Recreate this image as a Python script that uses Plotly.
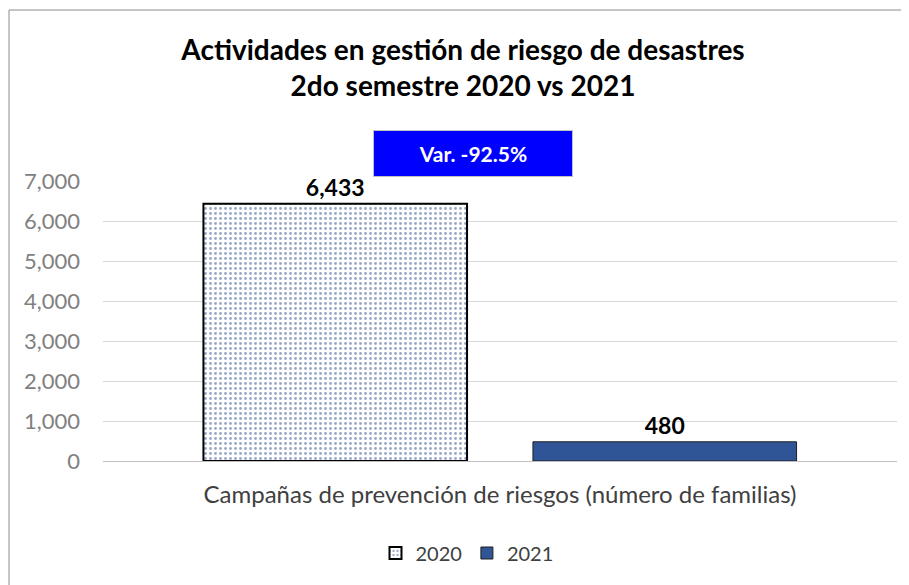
import plotly.graph_objects as go

categories = ["Campañas de prevención de riesgos (número de familias)"]
series_names = ["2020", "2021"]
values_2020 = [6433]
values_2021 = [480]
variation_label = "Var. -92.5%"
y_tick_values = [0, 1000, 2000, 3000, 4000, 5000, 6000, 7000]

FONT = "Lato"

# the page body adds an 8px margin, so the figure is 8px smaller each way
W, H = 901, 577
L, R, T, B = 95, 12, 173, 124
PW, PH = W - L - R, H - T - B


def px_x(x):
    return (x - 8 - L) / PW


def px_y(y):
    return (H - B - (y - 8)) / PH


fig = go.Figure()

fig.add_trace(
    go.Bar(
        name=series_names[0],
        x=categories,
        y=values_2020,
        text=[f"{v:,}" for v in values_2020],
        textposition="outside",
        textfont=dict(family=FONT, size=23, color="#000000", weight="bold"),
        marker=dict(
            color="#ffffff",
            line=dict(color="#000000", width=2),
            pattern=dict(shape=".", fgcolor="#2F4F8F", bgcolor="#ffffff", size=5, solidity=0.25),
        ),
        cliponaxis=False,
    )
)

fig.add_trace(
    go.Bar(
        name=series_names[1],
        x=categories,
        y=values_2021,
        text=[f"{v:,}" for v in values_2021],
        textposition="outside",
        textfont=dict(family=FONT, size=23, color="#000000", weight="bold"),
        marker=dict(color="#2F5597", line=dict(color="#1f1f1f", width=1)),
        cliponaxis=False,
    )
)

fig.update_layout(
    width=W,
    height=H,
    margin=dict(l=L, r=R, t=T, b=B),
    paper_bgcolor="#ffffff",
    plot_bgcolor="#ffffff",
    barmode="group",
    bargap=0.17,
    bargroupgap=0.2,
    font=dict(family=FONT, color="#404040"),
    title=dict(
        text="Actividades en gestión de riesgo de desastres<br>2do semestre 2020 vs 2021",
        x=455 / W,
        xanchor="center",
        y=1 - 52 / H,
        yanchor="top",
        font=dict(family=FONT, size=28, color="#000000", weight="bold"),
    ),
    showlegend=True,
    legend=dict(
        orientation="h",
        x=px_x(467),
        xanchor="center",
        y=px_y(553),
        yanchor="middle",
        font=dict(family=FONT, size=20, color="#404040"),
        itemwidth=30,
    ),
)

fig.update_yaxes(
    range=[0, 7000],
    tickvals=y_tick_values,
    tickformat=",",
    tickfont=dict(family=FONT, size=22, color="#808080"),
    showgrid=True,
    gridcolor="#d9d9d9",
    gridwidth=1,
    zeroline=False,
    showline=False,
    ticklabelstandoff=22,
    automargin=False,
)

fig.update_xaxes(
    tickfont=dict(family=FONT, size=24, color="#404040"),
    showline=True,
    linecolor="#bfbfbf",
    linewidth=1,
    ticklabelstandoff=12,
    automargin=False,
)

fig.add_annotation(
    text=f"<b>{variation_label}</b>",
    xref="paper",
    yref="paper",
    x=px_x(473),
    y=px_y(153.5),
    xanchor="center",
    yanchor="middle",
    showarrow=False,
    width=196,
    height=43,
    bgcolor="#0000ff",
    bordercolor="#c0c0c0",
    borderwidth=1,
    font=dict(family=FONT, size=21, color="#ffffff"),
)

fig.add_shape(
    type="rect",
    xref="paper",
    yref="paper",
    x0=px_x(9),
    x1=px_x(960),
    y0=px_y(640),
    y1=px_y(10),
    line=dict(color="#8c8c8c", width=1),
    fillcolor="rgba(0,0,0,0)",
    layer="below",
)

fig.write_html("out.html")
